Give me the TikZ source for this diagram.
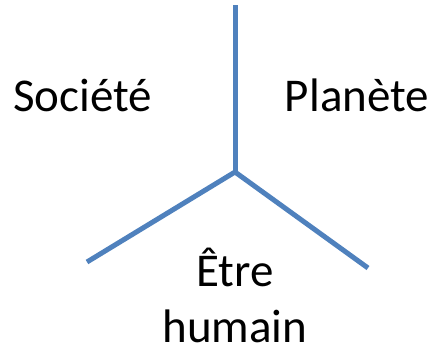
\documentclass[tikz,border=0pt]{standalone}
\usepackage{fontspec}
\setmainfont{Carlito}
\definecolor{lineblue}{HTML}{4F81BD}
\begin{document}
\begin{tikzpicture}[x=1pt,y=-1pt,
  arm/.style={draw=lineblue,line width=5pt,line cap=butt,line join=miter},
  lbl/.style={inner sep=0pt,anchor=base,font=\fontsize{47}{56}\selectfont,align=center}]
\useasboundingbox (0,0) rectangle (433,348);
\coordinate (top) at (235,5);
\coordinate (c) at (235,172);
\coordinate (l) at (87,262);
\coordinate (r) at (368,268);
\draw[arm] (top) -- (c);
\draw[arm] (l) -- (c) -- (r);
\node[lbl] (soc) at (82.5,111) {Société};
\node[lbl] (pla) at (357,111) {Planète};
\node[lbl] (hum) at (235,342) {Être\\humain};
\end{tikzpicture}
\end{document}
